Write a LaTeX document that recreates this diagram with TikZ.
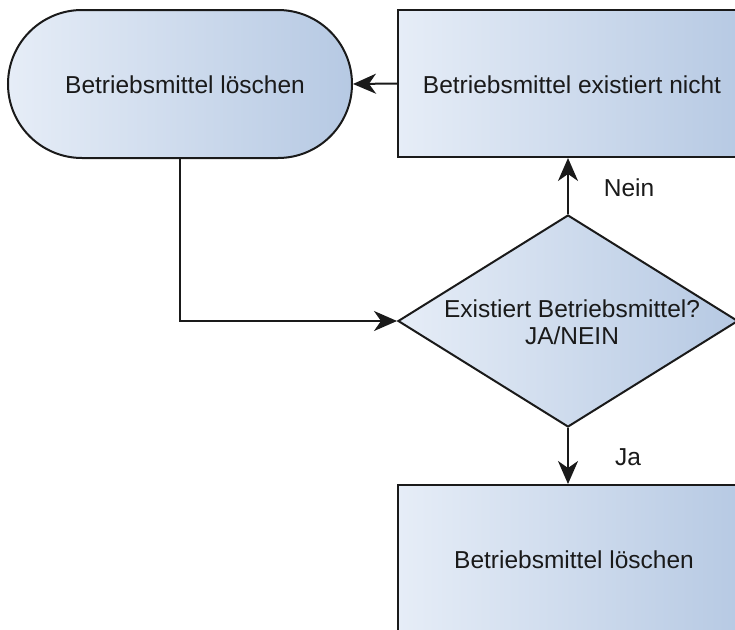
\documentclass[tikz,border=0pt]{standalone}
\usepackage{fontspec}
\setmainfont{Liberation Sans}
\usetikzlibrary{shapes.geometric,arrows.meta}
\definecolor{fillA}{HTML}{E6EDF7}
\definecolor{fillB}{HTML}{B6C9E3}
\definecolor{ink}{HTML}{1A1A1A}
\tikzset{
  shapefill/.style={draw=ink, line width=2pt, left color=fillA, right color=fillB},
  label text/.style={font=\fontsize{24.5}{30}\selectfont, text=ink},
  flow/.style={draw=ink, line width=2pt, -{Stealth[length=23pt, width=20pt, inset=7pt]}},
}
\begin{document}
\begin{tikzpicture}[x=1pt, y=-1pt]
  \clip (0,0) rectangle (735,629);
  \fill[white] (0,0) rectangle (735,629);

  % terminal: delete the resource
  \node[shapefill, rectangle, rounded corners=74pt, minimum width=344pt, minimum height=148pt,
        inner sep=0pt] (stadium) at (180,84) {};
  \node[label text] (stadiumtext) at (185,85) {Betriebsmittel löschen};

  % process: resource does not exist
  \node[shapefill, rectangle, minimum width=348pt, minimum height=147pt, inner sep=0pt]
        (nicht) at (572,83.5) {};
  \node[label text] (nichttext) at (572,85) {Betriebsmittel existiert nicht};

  % decision
  \node[shapefill, diamond, minimum width=340pt, minimum height=212pt, inner sep=0pt,
        shape aspect=1.6] (dia) at (568,321) {};
  \node[label text, align=center] (diatext) at (572,322)
        {Existiert Betriebsmittel?\\[-3pt]JA/NEIN};

  % process: delete the resource
  \node[shapefill, rectangle, minimum width=348pt, minimum height=147pt, inner sep=0pt]
        (loeschen) at (572,558.5) {};
  \node[label text] (loeschentext) at (574,560) {Betriebsmittel löschen};

  % connectors
  \draw[flow] (nicht.west) -- (stadium.east);
  \draw[flow] (dia.north) -- (dia.north |- nicht.south);
  \draw[flow] (dia.south) -- (dia.south |- loeschen.north);
  \draw[flow] (stadium.south) |- (dia.west);

  % branch labels
  \node[label text] (nein) at (629,188) {Nein};
  \node[label text] (ja) at (628,457) {Ja};
\end{tikzpicture}
\end{document}
